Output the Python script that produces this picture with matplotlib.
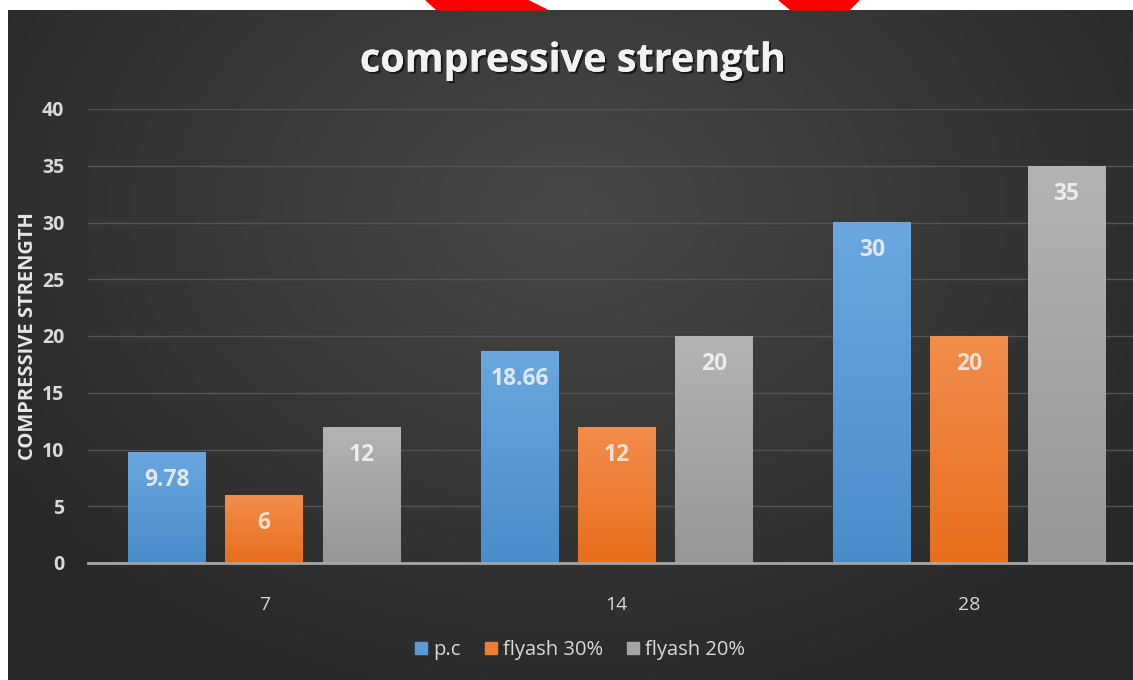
import matplotlib.pyplot as plt
import matplotlib.patheffects as pe
from matplotlib.colors import LinearSegmentedColormap
from matplotlib.patches import Patch, Polygon
import numpy as np

ages = ['7', '14', '28']
series = ['p.c', 'flyash 30%', 'flyash 20%']
pc = [9.78, 18.66, 30]
fly30 = [6, 12, 20]
fly20 = [12, 20, 35]
labels = [['9.78', '18.66', '30'], ['6', '12', '20'], ['12', '20', '35']]

W, H = 1133, 680
fig = plt.figure(figsize=(W / 100, H / 100), dpi=100, facecolor='white')

# red marker scribble in the top margin
for pts in ([(426, 0), (527, 0), (547, 10), (437, 10)],
            [(779, 0), (859, 0), (849, 10), (791, 10)]):
    fig.patches.append(Polygon([(x / W, 1 - y / H) for x, y in pts], closed=True,
                               transform=fig.transFigure, color='#ff0000', zorder=0))

# dark background with a soft radial glow
bg = fig.add_axes([8 / W, 0, 1 - 8 / W, 1 - 10 / H])
bg.set_axis_off()
yy, xx = np.mgrid[0:670, 0:1125]
r = np.sqrt(((xx - 560) / 700.0) ** 2 + ((yy - 200) / 520.0) ** 2)
glow = np.clip(1 - r, 0, 1)
bgcmap = LinearSegmentedColormap.from_list('bg', ['#282828', '#484848'])
bg.imshow(glow, cmap=bgcmap, aspect='auto', extent=[0, 1, 0, 1], origin='upper')
bg.set_xlim(0, 1)
bg.set_ylim(0, 1)

ax = fig.add_axes([88 / W, 1 - 563 / H, 3 * 352.5 / W, (563 - 109) / H])
ax.patch.set_visible(False)

x = np.arange(len(ages))
width = 0.221
step = 0.276
grads = [('#6aa7df', '#4a8ccb'), ('#f28d4c', '#e86f1c'), ('#b3b3b3', '#979797')]
flat = ['#5b9bd5', '#ed7d31', '#a5a5a5']
label_col = ['#dfe7f0', '#f3e0d0', '#ececec']
fam = ['Open Sans', 'DejaVu Sans']

for i, vals in enumerate([pc, fly30, fly20]):
    bars = ax.bar(x + (i - 1) * step, vals, width, color=flat[i], zorder=2)
    cm = LinearSegmentedColormap.from_list('g%d' % i, [grads[i][1], grads[i][0]])
    for b, lab in zip(bars, labels[i]):
        x0, h = b.get_x(), b.get_height()
        im = ax.imshow(np.linspace(0, 1, 64).reshape(-1, 1), cmap=cm, origin='lower',
                       extent=[x0, x0 + width, 0, h], aspect='auto', zorder=2.5)
        im.set_clip_path(b)
        ax.annotate(lab, (x0 + width / 2, h), xytext=(0, -20), textcoords='offset points',
                    ha='center', va='center', fontsize=16.5, fontweight='bold',
                    color=label_col[i], family=fam, zorder=4)

ax.set_xlim(-0.5, 2.5)
ax.set_ylim(0, 40)
ax.set_yticks(range(0, 41, 5))
ax.set_xticks(x)
ax.set_xticklabels(ages)
ax.grid(axis='y', color='#545454', linewidth=1, zorder=0)
ax.set_axisbelow(True)
for s in ['top', 'right', 'left']:
    ax.spines[s].set_visible(False)
ax.spines['bottom'].set_color('#a6a6a6')
ax.spines['bottom'].set_linewidth(2)
ax.spines['bottom'].set_zorder(5)
ax.tick_params(axis='both', length=0, colors='#d9d9d9', labelsize=14)
ax.tick_params(axis='y', pad=17)
ax.tick_params(axis='x', pad=24)
for t in ax.get_yticklabels():
    t.set_fontweight('bold')
    t.set_family(fam)
for t in ax.get_xticklabels():
    t.set_family(fam)
ax.set_ylabel('COMPRESSIVE STRENGTH', fontsize=14.5, fontweight='bold', color='#e6e6e6',
              family=fam, labelpad=2)
ax.yaxis.set_label_coords(-50 / (3 * 352.5), 0.5)

fig.text(573 / W, 1 - 61 / H, 'compressive strength', ha='center', va='center',
         fontsize=28.5, fontweight='bold', color='#f2f2f2', family=fam,
         path_effects=[pe.withSimplePatchShadow(offset=(1.5, -1.5), shadow_rgbFace='black', alpha=0.6), pe.Normal()])

handles = [Patch(color=c) for c in flat]
leg = fig.legend(handles, series, loc='center', bbox_to_anchor=(580 / W, 1 - 650 / H),
                 ncol=3, frameon=False, handlelength=0.6, handleheight=0.6,
                 handletextpad=0.3, columnspacing=1.2,
                 prop={'family': fam, 'size': 14.5})
for t in leg.get_texts():
    t.set_color('#d9d9d9')

fig.savefig('out.png', dpi=100, facecolor='white')
